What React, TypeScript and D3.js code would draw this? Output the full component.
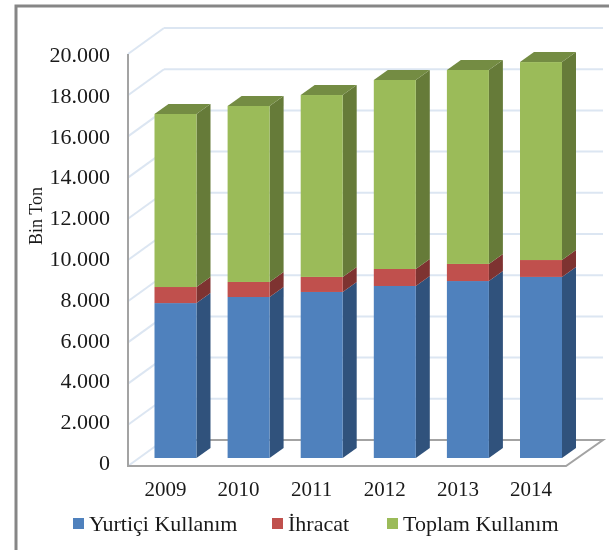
import React from "react";
import * as d3 from "d3";

const years = ["2009", "2010", "2011", "2012", "2013", "2014"];
const yurtici = [7520, 7815, 8060, 8350, 8590, 8790];
const ihracat = [780, 730, 730, 825, 830, 820];
const toplam = [8400, 8545, 8830, 9175, 9415, 9610];
const yTicks = [0, 2000, 4000, 6000, 8000, 10000, 12000, 14000, 16000, 18000, 20000];
const seriesNames = ["Yurtiçi Kullanım", "İhracat", "Toplam Kullanım"];
const seriesData = [yurtici, ihracat, toplam];
const frontColors = ["#4f81bd", "#c0504d", "#9bbb59"];
const sideColors = ["#30527c", "#7e3331", "#667b39"];
const topColors = ["#3b6496", "#98403d", "#748c43"];
const legendX = [73, 272, 387];

const fmt = (v: number) => (v === 0 ? "0" : d3.format(",")(v).replace(/,/g, "."));

export default function App() {
  const W = 609, H = 550;
  const depthX = 36, depthY = 26;
  const axisLeft = 128, axisRight = 566;
  const y = d3.scaleLinear().domain([0, 20000]).range([466, 54]);
  const labelY = d3.scaleLinear().domain([0, 20000]).range([470, 62]);
  const barBase = 458;
  const barY = (v: number) => barBase - (466 - y(v));
  const x = d3.scalePoint<string>().domain(years).range([154.5, 520]);
  const bw = 42;
  const dx = 14, dy = 10;
  const font = "'Liberation Serif', serif";
  const ink = "#1a1a1a";
  return (
    <svg width={W} height={H} style={{ position: "absolute", left: 0, top: 0, filter: "blur(0.45px)" }}>
      <rect width={W} height={H} fill="#fff" />
      <path d="M16 550V6H609" fill="none" stroke="#868686" strokeWidth={3} />
      {yTicks.map((t) => (
        <g key={t} stroke="#dce6f2" strokeWidth={2} fill="none">
          {t > 0 && <line x1={axisLeft + depthX} x2={axisRight + depthX + 1} y1={y(t) - depthY} y2={y(t) - depthY} />}
          <line x1={axisLeft} x2={axisLeft + depthX} y1={y(t)} y2={y(t) - depthY} />
        </g>
      ))}
      <path
        d={`M${axisLeft} ${y(20000)}V${y(0)}H${axisRight}L${axisRight + depthX + 1} ${y(0) - depthY}H${axisLeft + depthX}`}
        fill="none" stroke="#a3a3a3" strokeWidth={2}
      />
      {years.map((yr, i) => {
        const bx = x(yr) as number;
        const cum = [0, ...d3.cumsum(seriesData.map((s) => s[i]))];
        return (
          <g key={yr}>
            {seriesData.map((_, k) => {
              const y0 = barY(cum[k]);
              const y1 = barY(cum[k + 1]);
              return (
                <g key={k}>
                  <path d={`M${bx + bw} ${y1}L${bx + bw + dx} ${y1 - dy}V${y0 - dy}L${bx + bw} ${y0}Z`} fill={sideColors[k]} />
                  <rect x={bx} y={y1} width={bw} height={y0 - y1} fill={frontColors[k]} />
                  {k === 2 && (
                    <path d={`M${bx} ${y1}L${bx + dx} ${y1 - dy}H${bx + bw + dx}L${bx + bw} ${y1}Z`} fill={topColors[k]} />
                  )}
                </g>
              );
            })}
          </g>
        );
      })}
      {yTicks.map((t) => (
        <text key={t} x={110} y={labelY(t)} textAnchor="end" fontFamily={font} fontSize={22} fill={ink}>{fmt(t)}</text>
      ))}
      {years.map((yr) => (
        <text key={yr} x={(x(yr) as number) + 11} y={496} textAnchor="middle" fontFamily={font} fontSize={21} fill={ink}>{yr}</text>
      ))}
      <text transform="translate(42 216) rotate(-90)" textAnchor="middle" fontFamily={font} fontSize={18} fill={ink}>Bin Ton</text>
      {seriesNames.map((n, k) => (
        <g key={n}>
          <rect x={legendX[k]} y={518} width={11} height={11} fill={frontColors[k]} />
          <text x={legendX[k] + 16} y={531} fontFamily={font} fontSize={22} fill={ink}>{n}</text>
        </g>
      ))}
    </svg>
  );
}
